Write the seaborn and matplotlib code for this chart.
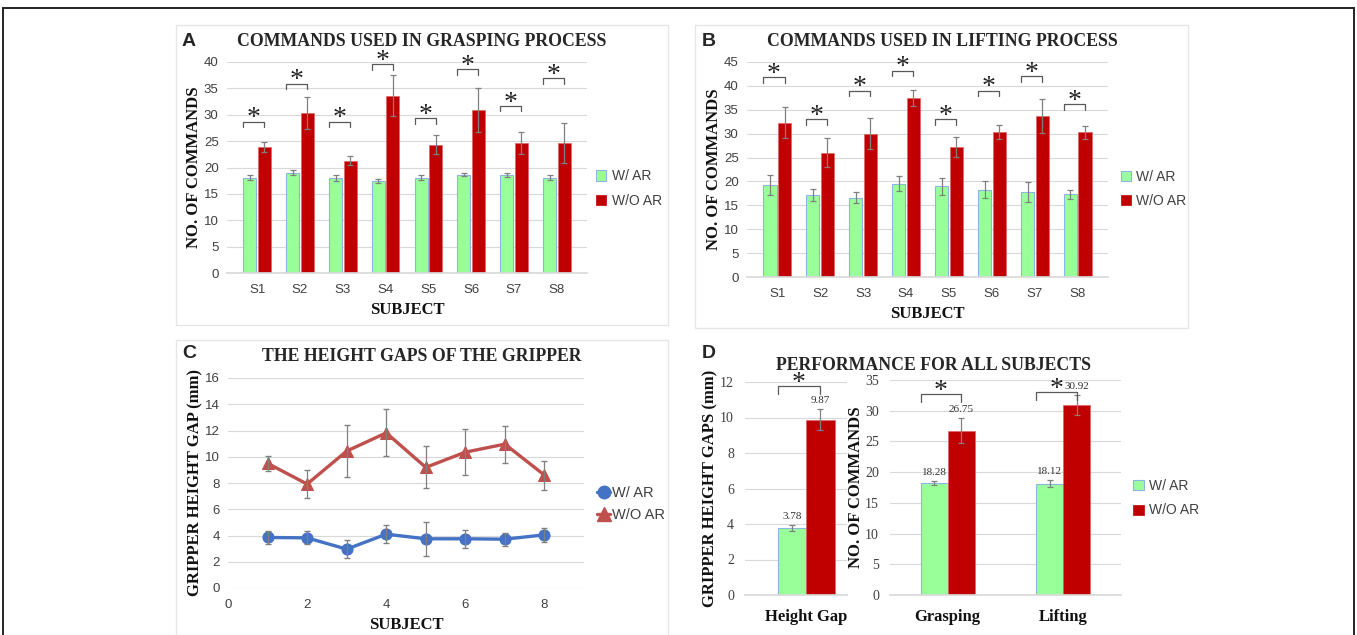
import numpy as np
import pandas as pd
import matplotlib
matplotlib.use("Agg")
import matplotlib.pyplot as plt
from matplotlib.patches import Rectangle
from matplotlib.lines import Line2D
import seaborn as sns

# -----------------------------
# Data
# -----------------------------
subjects = ["S1", "S2", "S3", "S4", "S5", "S6", "S7", "S8"]
groups = ["W/ AR", "W/O AR"]

grasp_ar = [18.1, 19.0, 18.0, 17.4, 18.1, 18.6, 18.6, 18.1]
grasp_ar_err = [0.4, 0.5, 0.5, 0.4, 0.5, 0.3, 0.4, 0.5]
grasp_noar = [23.9, 30.3, 21.3, 33.6, 24.3, 30.9, 24.6, 24.6]
grasp_noar_err = [1.0, 3.0, 0.9, 3.9, 1.8, 4.1, 2.1, 3.8]
grasp_bracket = [28.7, 35.9, 28.7, 39.6, 29.3, 38.7, 31.7, 37.0]

lift_ar = [19.2, 17.2, 16.6, 19.5, 19.0, 18.3, 17.8, 17.3]
lift_ar_err = [2.1, 1.2, 1.2, 1.6, 1.8, 1.8, 2.0, 1.0]
lift_noar = [32.3, 26.0, 30.0, 37.4, 27.3, 30.3, 33.7, 30.3]
lift_noar_err = [3.3, 3.0, 3.2, 1.7, 2.1, 1.5, 3.5, 1.4]
lift_bracket = [41.8, 33.0, 39.0, 43.2, 33.0, 39.0, 42.1, 36.2]

subject_no = [1, 2, 3, 4, 5, 6, 7, 8]
gap_ar = [3.85, 3.82, 2.96, 4.10, 3.75, 3.75, 3.72, 4.05]
gap_ar_err = [0.5, 0.5, 0.7, 0.7, 1.3, 0.7, 0.5, 0.55]
gap_noar = [9.50, 7.92, 10.43, 11.82, 9.19, 10.35, 10.96, 8.60]
gap_noar_err = [0.55, 1.1, 2.0, 1.8, 1.6, 1.75, 1.4, 1.1]

overall_gap = [3.78, 9.87]
overall_gap_err = [0.18, 0.6]
overall_gap_bracket = [11.76]
overall_tasks = ["Grasping", "Lifting"]
overall_cmd_ar = [18.28, 18.12]
overall_cmd_ar_err = [0.3, 0.55]
overall_cmd_noar = [26.75, 30.92]
overall_cmd_noar_err = [2.0, 1.6]
overall_cmd_bracket = [32.66, 32.99]

# -----------------------------
# Style
# -----------------------------
sns.set_theme(style="white")
plt.rcParams["font.family"] = ["Liberation Sans", "DejaVu Sans"]
SERIF = ["Liberation Serif", "DejaVu Serif"]
GREEN = "#99FF99"
GREEN_EDGE = "#8EB4E3"
RED = "#C00000"
RED_EDGE = "#E06666"
GRID = "#D9D9D9"
ERR = "#808080"
BLUE_L = "#4472C4"
RED_L = "#C0504D"

W, H = 1357, 635
fig = plt.figure(figsize=(W / 100, H / 100), dpi=100)


def fig_box(x0, y0, x1, y1):
    """axes rect from pixel box (top-left origin)."""
    return [x0 / W, 1 - y1 / H, (x1 - x0) / W, (y1 - y0) / H]


# outer frame + panel boxes
fig.add_artist(Rectangle((3 / W, -0.1), 1351 / W, 1.1 - 8 / H, transform=fig.transFigure,
                         fill=False, ec="#222222", lw=1.4))
for bx in [(176, 25, 668, 325), (695, 25, 1188, 328), (176, 340, 668, 640)]:
    x0, y0, x1, y1 = bx
    fig.add_artist(Rectangle((x0 / W, 1 - y1 / H), (x1 - x0) / W, (y1 - y0) / H,
                             transform=fig.transFigure, fill=False, ec="#E6E6E6", lw=1.0))


def style_axes(ax, ylim, step, tick_font=None, tick_size=9.5, ypad=6):
    ax.set_ylim(*ylim)
    ax.set_yticks(np.arange(ylim[0], ylim[1] + 0.01, step))
    ax.grid(axis="y", color=GRID, lw=0.8)
    ax.set_axisbelow(True)
    for s in ["top", "right", "left"]:
        ax.spines[s].set_visible(False)
    ax.spines["bottom"].set_color(GRID)
    ax.tick_params(axis="both", length=0, labelsize=tick_size, colors="#404040")
    ax.tick_params(axis="x", pad=8)
    ax.tick_params(axis="y", pad=ypad)
    if tick_font:
        for lab in ax.get_xticklabels() + ax.get_yticklabels():
            lab.set_family(tick_font)


def grouped_bars(ax, cats, a, b, width, gap):
    df = pd.DataFrame({"cat": cats * 2, "grp": [groups[0]] * len(cats) + [groups[1]] * len(cats),
                       "val": list(a) + list(b)})
    sns.barplot(data=df, x="cat", y="val", hue="grp", order=cats, hue_order=groups,
                palette=[GREEN, RED], saturation=1, width=width, gap=gap, errorbar=None,
                ax=ax, legend=False)
    n = len(cats)
    bars = list(ax.patches)[: 2 * n]
    for p in bars[:n]:
        p.set_edgecolor(GREEN_EDGE)
        p.set_linewidth(0.8)
    for p in bars[n:]:
        p.set_edgecolor(RED_EDGE)
        p.set_linewidth(0.5)
    ax.set_xlabel("")
    ax.set_ylabel("")
    return bars[:n], bars[n:]


def add_err(ax, bars, vals, errs, capsize=2):
    xs = [p.get_x() + p.get_width() / 2 for p in bars]
    ax.errorbar(xs, vals, yerr=errs, fmt="none", ecolor=ERR, elinewidth=0.9, capsize=capsize,
                capthick=0.9, zorder=5)


def add_brackets(ax, gbars, rbars, levels, leg_frac=0.027, star_size=20):
    lo, hi = ax.get_ylim()
    leg = (hi - lo) * leg_frac
    for g, r, y in zip(gbars, rbars, levels):
        x0 = g.get_x()
        x1 = r.get_x() + r.get_width() / 2
        ax.plot([x0, x0, x1, x1], [y - leg, y, y, y - leg], color="#595959", lw=0.9,
                clip_on=False, zorder=6)
        ax.annotate("*", xy=((x0 + x1) / 2, y), xytext=(0, -7), textcoords="offset points",
                    ha="center", va="bottom", fontsize=star_size, family=SERIF, color="#222222",
                    annotation_clip=False)


def square_legend(ax, anchor):
    handles = [Rectangle((0, 0), 1, 1, fc=GREEN, ec=GREEN_EDGE, lw=0.8),
               Rectangle((0, 0), 1, 1, fc=RED, ec=RED, lw=0.5)]
    ax.legend(handles, groups, loc="center left", bbox_to_anchor=anchor, frameon=False,
              fontsize=10, handlelength=0.75, handleheight=0.75, handletextpad=0.4,
              labelspacing=0.75, labelcolor="#404040")


def axis_title(ax, text, which, pad):
    kw = dict(family=SERIF, fontweight="bold", fontsize=12, color="#111111")
    if which == "x":
        ax.set_xlabel(text, labelpad=pad, **kw)
    else:
        ax.set_ylabel(text, labelpad=pad, **kw)


# -----------------------------
# A: grasping
# -----------------------------
axA = fig.add_axes(fig_box(227, 62, 587, 273))
gb, rb = grouped_bars(axA, subjects, grasp_ar, grasp_noar, width=0.68, gap=0.1)
style_axes(axA, (0, 40), 5)
add_err(axA, gb, grasp_ar, grasp_ar_err)
add_err(axA, rb, grasp_noar, grasp_noar_err)
add_brackets(axA, gb, rb, grasp_bracket)
axis_title(axA, "SUBJECT", "x", 4)
axis_title(axA, "NO. OF COMMANDS", "y", 1)
square_legend(axA, (0.99, 0.40))
fig.text(422 / W, 1 - 41 / H, "COMMANDS USED IN GRASPING PROCESS", family=SERIF,
         fontweight="bold", fontsize=12.8, ha="center", va="center")
fig.text(182 / W, 1 - 41 / H, "A", fontweight="bold", fontsize=14, va="center")

# -----------------------------
# B: lifting
# -----------------------------
axB = fig.add_axes(fig_box(747, 62, 1108, 277))
gb, rb = grouped_bars(axB, subjects, lift_ar, lift_noar, width=0.68, gap=0.1)
style_axes(axB, (0, 45), 5)
add_err(axB, gb, lift_ar, lift_ar_err)
add_err(axB, rb, lift_noar, lift_noar_err)
add_brackets(axB, gb, rb, lift_bracket)
axis_title(axB, "SUBJECT", "x", 4)
axis_title(axB, "NO. OF COMMANDS", "y", 1)
square_legend(axB, (1.0, 0.41))
fig.text(942 / W, 1 - 41 / H, "COMMANDS USED IN LIFTING PROCESS", family=SERIF,
         fontweight="bold", fontsize=12.8, ha="center", va="center")
fig.text(702 / W, 1 - 41 / H, "B", fontweight="bold", fontsize=14, va="center")

# -----------------------------
# C: height gaps
# -----------------------------
axC = fig.add_axes(fig_box(228, 378, 584, 588))
sns.lineplot(x=subject_no, y=gap_ar, color=BLUE_L, lw=2.4, marker="o", markersize=8,
             markeredgecolor=BLUE_L, ax=axC)
sns.lineplot(x=subject_no, y=gap_noar, color=RED_L, lw=2.4, marker="^", markersize=9,
             markeredgecolor=RED_L, ax=axC)
axC.errorbar(subject_no, gap_ar, yerr=gap_ar_err, fmt="none", ecolor=ERR, elinewidth=0.9,
             capsize=2, zorder=5)
axC.errorbar(subject_no, gap_noar, yerr=gap_noar_err, fmt="none", ecolor=ERR, elinewidth=0.9,
             capsize=2, zorder=5)
axC.set_xlim(0, 9)
axC.set_xticks([0, 2, 4, 6, 8])
style_axes(axC, (0, 16), 2)
axC.spines["bottom"].set_visible(False)
axis_title(axC, "SUBJECT", "x", 4)
axis_title(axC, "GRIPPER HEIGHT GAP (mm)", "y", 1)
c_handles = [Line2D([], [], color=BLUE_L, marker="o", markersize=9, lw=2.4),
             Line2D([], [], color=RED_L, marker="^", markersize=10, lw=2.4)]
axC.legend(c_handles, groups, loc="center left", bbox_to_anchor=(1.0, 0.40), frameon=False,
           fontsize=10.5, handlelength=0.9, handletextpad=0.1, labelspacing=0.6,
           labelcolor="#404040")
fig.text(422 / W, 1 - 356 / H, "THE HEIGHT GAPS OF THE GRIPPER", family=SERIF,
         fontweight="bold", fontsize=12.8, ha="center", va="center")
fig.text(182 / W, 1 - 354 / H, "C", fontweight="bold", fontsize=14, va="center")

# -----------------------------
# D: overall performance
# -----------------------------
axD1 = fig.add_axes(fig_box(745, 382, 847, 595))
gb1, rb1 = grouped_bars(axD1, ["Height Gap"], [overall_gap[0]], [overall_gap[1]],
                        width=0.8, gap=0)
axD1.set_xlim(-0.86, 0.575)
style_axes(axD1, (0, 12), 2, tick_font=SERIF, tick_size=10, ypad=8)
add_err(axD1, gb1, [overall_gap[0]], [overall_gap_err[0]])
add_err(axD1, rb1, [overall_gap[1]], [overall_gap_err[1]])
add_brackets(axD1, gb1, rb1, overall_gap_bracket, leg_frac=0.035)
axis_title(axD1, "GRIPPER HEIGHT GAPS (mm)", "y", 1)

axD2 = fig.add_axes(fig_box(890, 380, 1121, 595))
gb2, rb2 = grouped_bars(axD2, overall_tasks, overall_cmd_ar, overall_cmd_noar,
                        width=0.47, gap=0)
axD2.set_xlim(-0.5, 1.5)
style_axes(axD2, (0, 35), 5, tick_font=SERIF, tick_size=10, ypad=8)
add_err(axD2, gb2, overall_cmd_ar, overall_cmd_ar_err)
add_err(axD2, rb2, overall_cmd_noar, overall_cmd_noar_err)
add_brackets(axD2, gb2, rb2, overall_cmd_bracket, leg_frac=0.035)
axis_title(axD2, "NO. OF COMMANDS", "y", 1)
square_legend(axD2, (1.0, 0.45))

for ax in (axD1, axD2):
    for lab in ax.get_xticklabels():
        lab.set_family(SERIF)
        lab.set_fontweight("bold")
        lab.set_fontsize(12)
        lab.set_color("#111111")
    ax.tick_params(axis="x", pad=10)

# value labels above the error bars
for ax, bars, vals, errs in [
    (axD1, gb1 + rb1, overall_gap, overall_gap_err),
    (axD2, gb2, overall_cmd_ar, overall_cmd_ar_err),
    (axD2, rb2, overall_cmd_noar, overall_cmd_noar_err),
]:
    for p, v, e in zip(bars, vals, errs):
        ax.annotate(f"{v:.2f}", xy=(p.get_x() + p.get_width() / 2, v + e), xytext=(0, 3),
                    textcoords="offset points", ha="center", va="bottom", fontsize=8,
                    family=SERIF, color="#333333")

fig.text(933 / W, 1 - 365 / H, "PERFORMANCE FOR ALL SUBJECTS", family=SERIF,
         fontweight="bold", fontsize=12.8, ha="center", va="center")
fig.text(702 / W, 1 - 354 / H, "D", fontweight="bold", fontsize=14, va="center")

fig.savefig("out.png", dpi=100)
